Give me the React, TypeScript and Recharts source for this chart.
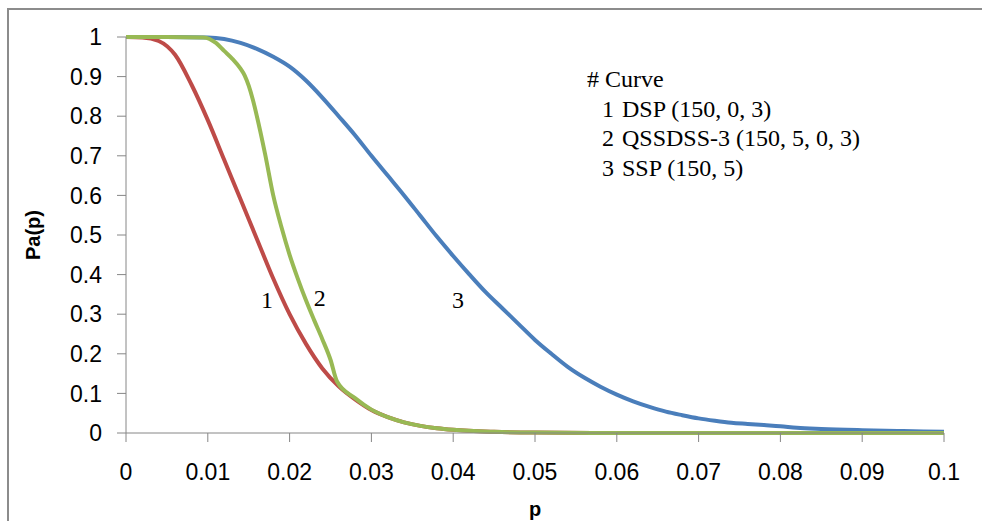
import { LineChart, Line, XAxis, YAxis, ReferenceDot, Label } from 'recharts'

// p values and Pa(p)
const dspP = [0, 0.002, 0.004, 0.006, 0.008, 0.01, 0.012, 0.014, 0.016, 0.018, 0.02, 0.022, 0.024, 0.026, 0.028, 0.03, 0.032, 0.034, 0.036, 0.038, 0.04, 0.045, 0.05, 0.06, 0.07, 0.08, 0.09, 0.1]
const dspPa = [1, 0.999, 0.99, 0.955, 0.88, 0.79, 0.69, 0.59, 0.49, 0.39, 0.3, 0.225, 0.163, 0.118, 0.085, 0.058, 0.04, 0.027, 0.018, 0.012, 0.008, 0.003, 0.001, 0, 0, 0, 0, 0]

const qssP = [0, 0.005, 0.0095, 0.011, 0.012, 0.013, 0.014, 0.0145, 0.015, 0.0155, 0.016, 0.017, 0.018, 0.019, 0.02, 0.021, 0.022, 0.023, 0.024, 0.025, 0.0258, 0.028, 0.03, 0.032, 0.034, 0.036, 0.038, 0.04, 0.045, 0.05, 0.06, 0.07, 0.08, 0.09, 0.1]
const qssPa = [1, 1, 0.999, 0.985, 0.965, 0.945, 0.92, 0.903, 0.877, 0.842, 0.8, 0.705, 0.6, 0.52, 0.45, 0.39, 0.335, 0.285, 0.237, 0.185, 0.13, 0.088, 0.059, 0.04, 0.027, 0.018, 0.012, 0.008, 0.003, 0.001, 0, 0, 0, 0, 0]

const sspP = [0, 0.005, 0.01, 0.012, 0.014, 0.016, 0.018, 0.02, 0.022, 0.024, 0.026, 0.028, 0.03, 0.032, 0.034, 0.036, 0.038, 0.04, 0.042, 0.044, 0.046, 0.048, 0.05, 0.052, 0.054, 0.056, 0.058, 0.06, 0.062, 0.064, 0.066, 0.068, 0.07, 0.072, 0.074, 0.076, 0.078, 0.08, 0.082, 0.085, 0.09, 0.095, 0.1]
const sspPa = [1, 1, 0.999, 0.995, 0.985, 0.97, 0.95, 0.925, 0.89, 0.847, 0.8, 0.752, 0.7, 0.65, 0.6, 0.548, 0.496, 0.447, 0.4, 0.355, 0.315, 0.275, 0.235, 0.2, 0.167, 0.14, 0.117, 0.097, 0.08, 0.066, 0.054, 0.045, 0.037, 0.031, 0.026, 0.023, 0.02, 0.017, 0.013, 0.01, 0.007, 0.005, 0.003]

const xTicks = [0, 0.01, 0.02, 0.03, 0.04, 0.05, 0.06, 0.07, 0.08, 0.09, 0.1]
const yTicks = [0, 0.1, 0.2, 0.3, 0.4, 0.5, 0.6, 0.7, 0.8, 0.9, 1]

const curveLabels = [
  { name: '1', p: 0.01724, pa: 0.336 },
  { name: '2', p: 0.0237, pa: 0.343 },
  { name: '3', p: 0.0406, pa: 0.336 },
]

const legendNums = ['1', '2', '3']
const legendNames = ['DSP (150, 0, 3)', 'QSSDSS-3 (150, 5, 0, 3)', 'SSP (150, 5)']

const toRows = (xs: number[], ys: number[]) => xs.map((p, i) => ({ p, pa: ys[i] }))

const AXIS = '#868686'
const sans = 'Liberation Sans, Arial, sans-serif'
const serif = 'Liberation Serif, Times New Roman, serif'
const tickFont = { fill: '#000', fontSize: 23, fontFamily: sans }

export default function App() {
  return (
    <div style={{ position: 'absolute', left: 0, top: 0, width: 982, height: 521, overflow: 'hidden', background: '#fff' }}>
      <div
        style={{
          position: 'absolute',
          left: 7,
          top: 8,
          width: 1000,
          height: 600,
          border: '2px solid #8c8c8c',
        }}
      />
      <LineChart
        width={982}
        height={521}
        margin={{ top: 37, right: 38, bottom: 0, left: 0 }}
        style={{ position: 'absolute', left: 0, top: 0 }}
      >
        <XAxis
          type="number"
          dataKey="p"
          domain={[0, 0.1]}
          ticks={xTicks}
          interval={0}
          allowDataOverflow
          stroke={AXIS}
          tickSize={9}
          tickMargin={22}
          tick={tickFont}
          tickFormatter={(v) => String(v)}
          height={88}
        >
          <Label
            value="p"
            position="insideBottom"
            offset={5}
            style={{ fontSize: 20, fontWeight: 'bold', fontFamily: sans, fill: '#000' }}
          />
        </XAxis>
        <YAxis
          type="number"
          domain={[0, 1]}
          ticks={yTicks}
          interval={0}
          stroke={AXIS}
          tickSize={9}
          tickMargin={15}
          tick={tickFont}
          width={126}
        >
          <Label
            value="Pa(p)"
            angle={-90}
            position="insideLeft"
            offset={33}
            style={{ textAnchor: 'middle', fontSize: 20, fontWeight: 'bold', fontFamily: sans, fill: '#000' }}
          />
        </YAxis>
        <Line
          data={toRows(sspP, sspPa)}
          dataKey="pa"
          type="monotone"
          stroke="#4a7ebb"
          strokeWidth={4}
          dot={false}
          isAnimationActive={false}
        />
        <Line
          data={toRows(dspP, dspPa)}
          dataKey="pa"
          type="monotone"
          stroke="#be4b48"
          strokeWidth={4}
          dot={false}
          isAnimationActive={false}
        />
        <Line
          data={toRows(qssP, qssPa)}
          dataKey="pa"
          type="monotone"
          stroke="#98b954"
          strokeWidth={4}
          dot={false}
          isAnimationActive={false}
        />
        {curveLabels.map((c) => (
          <ReferenceDot key={c.name} x={c.p} y={c.pa} r={0} stroke="none" fill="none">
            <Label value={c.name} position="center" style={{ fontSize: 24, fontFamily: serif, fill: '#000' }} />
          </ReferenceDot>
        ))}
      </LineChart>
      <div
        style={{
          position: 'absolute',
          left: 587,
          top: 65,
          fontFamily: serif,
          fontSize: 24,
          lineHeight: '29.5px',
          color: '#000',
          whiteSpace: 'pre',
        }}
      >
        <div># Curve</div>
        {legendNames.map((t, i) => (
          <div key={t}>
            <span style={{ display: 'inline-block', width: 20, paddingLeft: 15 }}>{legendNums[i]}</span>
            {t}
          </div>
        ))}
      </div>
    </div>
  )
}
